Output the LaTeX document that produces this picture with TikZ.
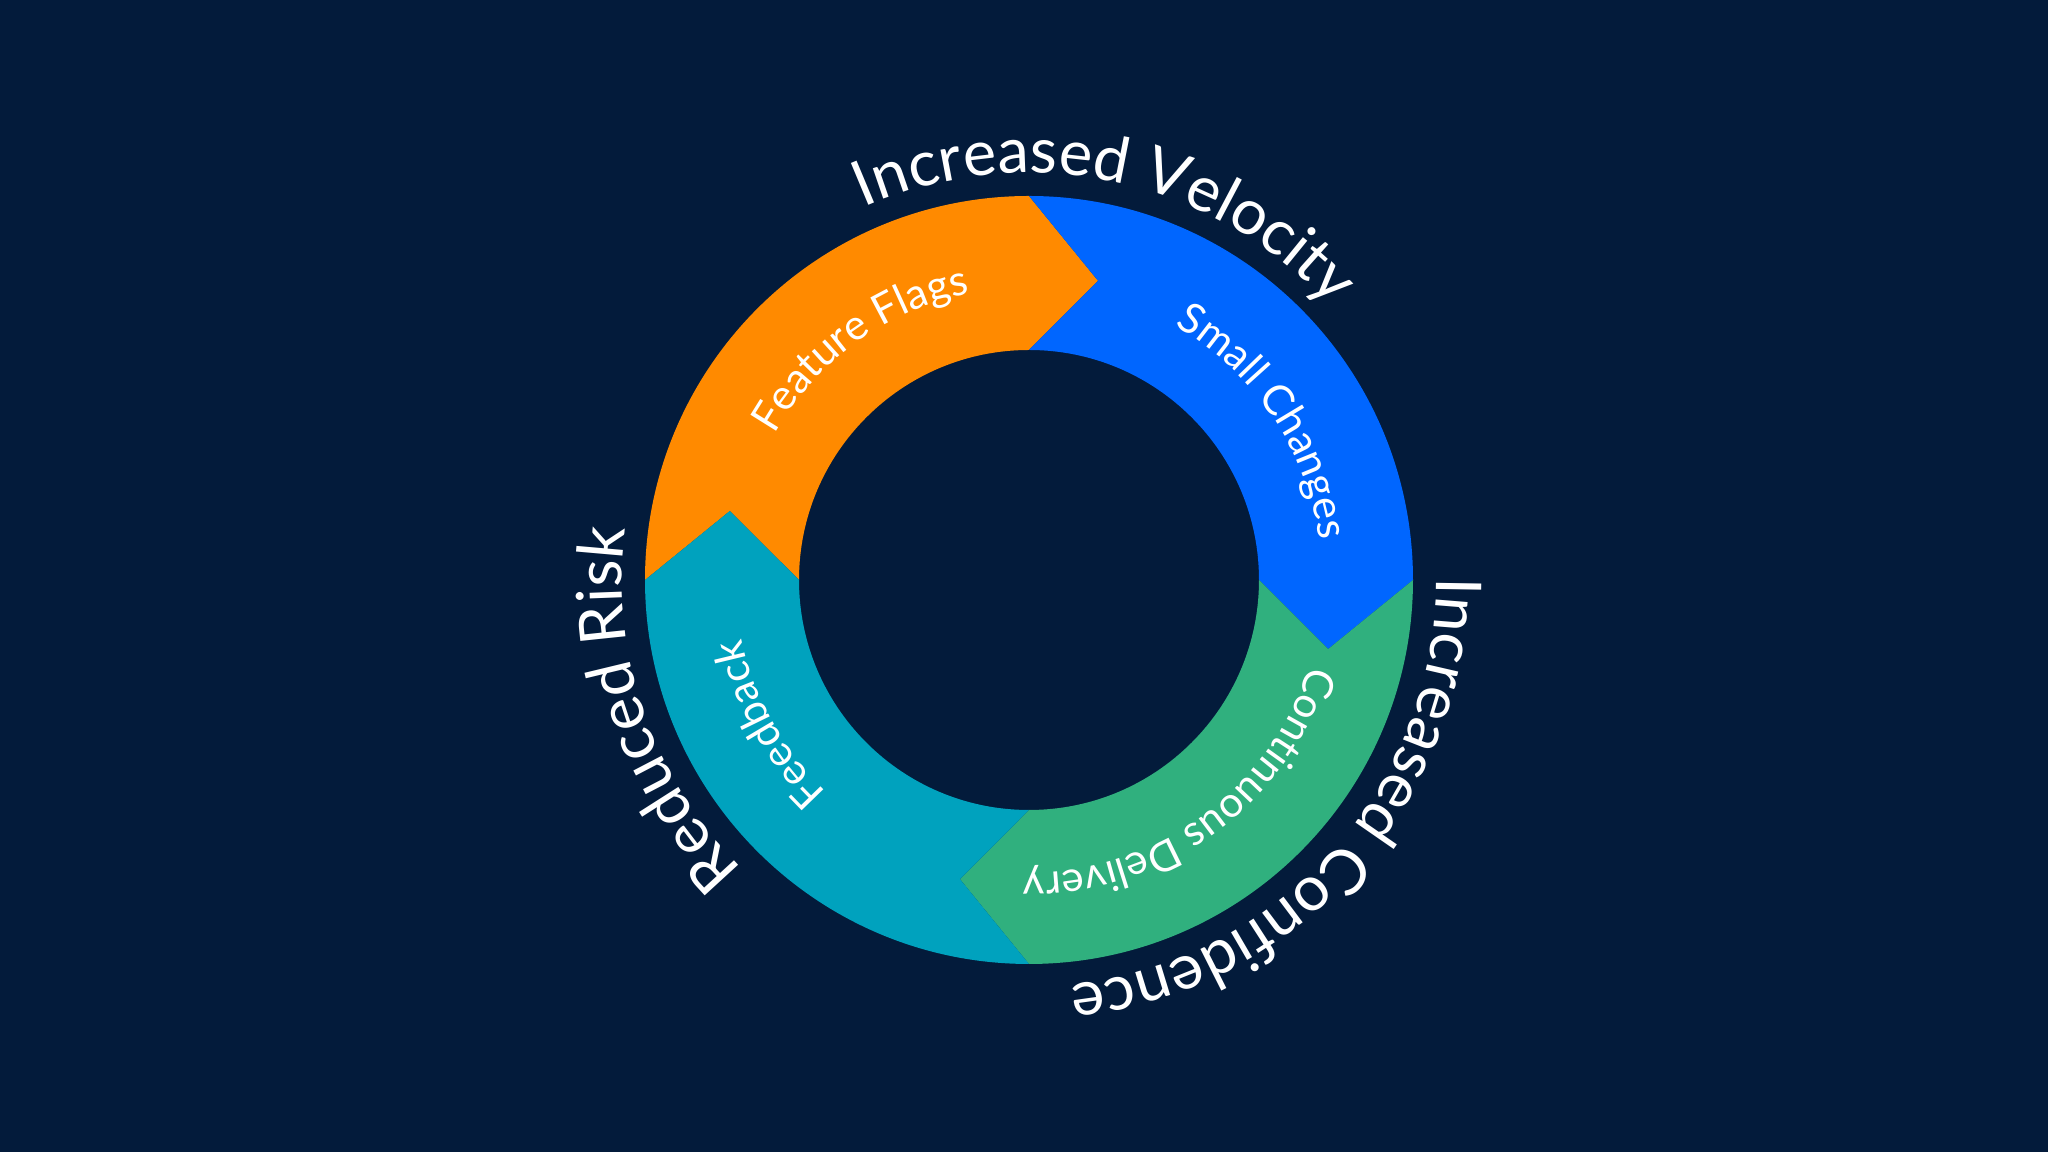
\documentclass[tikz,border=0pt]{standalone}
\usepackage{fontspec}
\setmainfont{Lato}
\usetikzlibrary{decorations.text}
\definecolor{bg}{HTML}{031B3B}
\definecolor{cor}{HTML}{FF8A00}
\definecolor{cbl}{HTML}{0066FF}
\definecolor{cgr}{HTML}{30B07E}
\definecolor{cte}{HTML}{00A2BE}
\tikzset{
  inlbl/.style={decorate,decoration={text along path,text align=center,
     text={|\color{white}\fontsize{12}{14}\selectfont|#1}}},
  outlbl/.style={decorate,decoration={text along path,text align=center,
     text={|\color{white}\fontsize{18}{22}\selectfont|#1}}}
}
\newcommand{\seg}[2]{%
  \fill[#2] (#1:3.84) arc[start angle=#1,end angle=#1-90,radius=3.84]
    -- (#1-103:3.07) -- (#1-90:2.30) arc[start angle=#1-90,end angle=#1,radius=2.30]
    -- (#1-13:3.07) -- cycle;}
\newcommand{\arclbl}[4]{% style, text, center angle, radius
  \path[#1={#2}] (#3+70:#4) arc[start angle=#3+70,end angle=#3-70,radius=#4];}
\begin{document}
\begin{tikzpicture}
\fill[bg] (0,0) rectangle (20.48,11.52);
\useasboundingbox (0,0) rectangle (20.48,11.52);
\begin{scope}[shift={(10.29,5.72)}]
\seg{180}{cor}
\seg{90}{cbl}
\seg{0}{cgr}
\seg{270}{cte}
\arclbl{inlbl}{Feature Flags}{126}{2.93}
\arclbl{inlbl}{Small Changes}{34}{2.93}
\arclbl{inlbl}{Continuous Delivery}{-54}{2.93}
\arclbl{inlbl}{Feedback}{209}{2.93}
\arclbl{outlbl}{Increased Velocity}{78}{4.07}
\arclbl{outlbl}{Increased Confidence}{-42}{4.07}
\arclbl{outlbl}{Reduced Risk}{199}{4.07}
\end{scope}
\end{tikzpicture}
\end{document}
